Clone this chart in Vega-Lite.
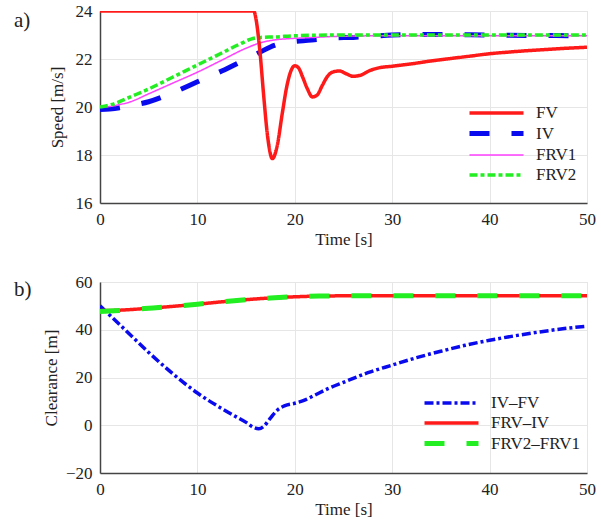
{
  "$schema": "https://vega.github.io/schema/vega-lite/v6.json",
  "padding": {"left": 13, "top": 1, "right": 4, "bottom": 2},
  "background": "white",
  "spacing": 24,
  "config": {
    "font": "Liberation Serif",
    "view": {"stroke": "#dcdcdc", "strokeWidth": 1},
    "axis": {
      "labelFont": "Liberation Serif", "labelFontSize": 17, "labelColor": "#222",
      "titleFont": "Liberation Serif", "titleFontSize": 17, "titleFontWeight": "normal", "titleColor": "#222",
      "domainColor": "#444", "domainWidth": 1.5, "gridColor": "#e6e6e6", "gridWidth": 1,
      "ticks": false, "labelPadding": 8, "labelFlush": false
    },
    "legend": {
      "labelFont": "Liberation Serif", "labelFontSize": 17, "labelColor": "#222",
      "symbolType": "M-2.7,0H2.7", "symbolSize": 400, "labelOffset": 27, "rowPadding": 0,
      "title": null, "orient": "none"
    },
    "title": {"font": "Liberation Serif", "fontSize": 21, "fontWeight": "normal", "color": "#222"}
  },
  "datasets": {
    "speed": [
      {"t": 0, "v": 19.9, "s": "IV"}, {"t": 1, "v": 19.92, "s": "IV"}, {"t": 2, "v": 19.97, "s": "IV"}, {"t": 3, "v": 20.05, "s": "IV"}, {"t": 5, "v": 20.22, "s": "IV"}, {"t": 7.5, "v": 20.6, "s": "IV"}, {"t": 10, "v": 21.05, "s": "IV"}, {"t": 12.5, "v": 21.5, "s": "IV"}, {"t": 15, "v": 22.0, "s": "IV"}, {"t": 16.5, "v": 22.3, "s": "IV"}, {"t": 17.5, "v": 22.5, "s": "IV"}, {"t": 19, "v": 22.68, "s": "IV"}, {"t": 20.5, "v": 22.75, "s": "IV"}, {"t": 22, "v": 22.8, "s": "IV"}, {"t": 24, "v": 22.88, "s": "IV"}, {"t": 26, "v": 22.9, "s": "IV"}, {"t": 28, "v": 22.95, "s": "IV"}, {"t": 30, "v": 23.0, "s": "IV"}, {"t": 35, "v": 23.02, "s": "IV"}, {"t": 40, "v": 23.0, "s": "IV"}, {"t": 45, "v": 22.98, "s": "IV"}, {"t": 50, "v": 22.97, "s": "IV"},
      {"t": 0, "v": 20.0, "s": "FRV1"}, {"t": 1, "v": 20.02, "s": "FRV1"}, {"t": 2, "v": 20.1, "s": "FRV1"}, {"t": 3, "v": 20.2, "s": "FRV1"}, {"t": 5, "v": 20.55, "s": "FRV1"}, {"t": 7.5, "v": 21.0, "s": "FRV1"}, {"t": 10, "v": 21.45, "s": "FRV1"}, {"t": 12.5, "v": 21.95, "s": "FRV1"}, {"t": 15, "v": 22.45, "s": "FRV1"}, {"t": 16.5, "v": 22.68, "s": "FRV1"}, {"t": 18, "v": 22.8, "s": "FRV1"}, {"t": 19.5, "v": 22.85, "s": "FRV1"}, {"t": 21, "v": 22.88, "s": "FRV1"}, {"t": 25, "v": 22.95, "s": "FRV1"}, {"t": 30, "v": 22.97, "s": "FRV1"}, {"t": 50, "v": 22.97, "s": "FRV1"},
      {"t": 0, "v": 20.0, "s": "FRV2"}, {"t": 1, "v": 20.08, "s": "FRV2"}, {"t": 2, "v": 20.22, "s": "FRV2"}, {"t": 3, "v": 20.4, "s": "FRV2"}, {"t": 5, "v": 20.75, "s": "FRV2"}, {"t": 7.5, "v": 21.25, "s": "FRV2"}, {"t": 10, "v": 21.75, "s": "FRV2"}, {"t": 12.5, "v": 22.25, "s": "FRV2"}, {"t": 14.5, "v": 22.65, "s": "FRV2"}, {"t": 15.5, "v": 22.83, "s": "FRV2"}, {"t": 16.5, "v": 22.9, "s": "FRV2"}, {"t": 18, "v": 22.92, "s": "FRV2"}, {"t": 20, "v": 22.97, "s": "FRV2"}, {"t": 25, "v": 23.0, "s": "FRV2"}, {"t": 50, "v": 23.0, "s": "FRV2"},
      {"t": 0, "v": 24, "s": "FV"}, {"t": 15.8, "v": 24, "s": "FV"}, {"t": 16.0, "v": 23.7, "s": "FV"}, {"t": 16.4, "v": 22.4, "s": "FV"}, {"t": 16.8, "v": 20.5, "s": "FV"}, {"t": 17.2, "v": 18.8, "s": "FV"}, {"t": 17.7, "v": 17.85, "s": "FV"}, {"t": 18.2, "v": 18.4, "s": "FV"}, {"t": 18.7, "v": 19.7, "s": "FV"}, {"t": 19.2, "v": 20.9, "s": "FV"}, {"t": 19.6, "v": 21.5, "s": "FV"}, {"t": 20.0, "v": 21.72, "s": "FV"}, {"t": 20.4, "v": 21.62, "s": "FV"}, {"t": 20.8, "v": 21.25, "s": "FV"}, {"t": 21.3, "v": 20.75, "s": "FV"}, {"t": 21.8, "v": 20.42, "s": "FV"}, {"t": 22.3, "v": 20.5, "s": "FV"}, {"t": 22.8, "v": 20.88, "s": "FV"}, {"t": 23.4, "v": 21.3, "s": "FV"}, {"t": 24.0, "v": 21.47, "s": "FV"}, {"t": 24.6, "v": 21.5, "s": "FV"}, {"t": 25.3, "v": 21.38, "s": "FV"}, {"t": 26.0, "v": 21.28, "s": "FV"}, {"t": 26.8, "v": 21.33, "s": "FV"}, {"t": 27.6, "v": 21.5, "s": "FV"}, {"t": 28.5, "v": 21.62, "s": "FV"}, {"t": 30, "v": 21.7, "s": "FV"}, {"t": 32, "v": 21.8, "s": "FV"}, {"t": 34, "v": 21.92, "s": "FV"}, {"t": 36, "v": 22.02, "s": "FV"}, {"t": 38, "v": 22.12, "s": "FV"}, {"t": 40, "v": 22.22, "s": "FV"}, {"t": 42, "v": 22.29, "s": "FV"}, {"t": 44, "v": 22.35, "s": "FV"}, {"t": 46, "v": 22.4, "s": "FV"}, {"t": 48, "v": 22.45, "s": "FV"}, {"t": 50, "v": 22.49, "s": "FV"}
    ],
    "clear": [
      {"t": 0, "c": 50, "p": "IV–FV"}, {"t": 2.5, "c": 40.3, "p": "IV–FV"}, {"t": 5, "c": 30.5, "p": "IV–FV"}, {"t": 7.5, "c": 21.5, "p": "IV–FV"}, {"t": 10, "c": 13.5, "p": "IV–FV"}, {"t": 12.5, "c": 7, "p": "IV–FV"}, {"t": 14, "c": 3.5, "p": "IV–FV"}, {"t": 15, "c": 1.2, "p": "IV–FV"}, {"t": 15.8, "c": -1, "p": "IV–FV"}, {"t": 16.3, "c": -1.5, "p": "IV–FV"}, {"t": 16.8, "c": -0.5, "p": "IV–FV"}, {"t": 17.5, "c": 3, "p": "IV–FV"}, {"t": 18.2, "c": 6.3, "p": "IV–FV"}, {"t": 19, "c": 8.2, "p": "IV–FV"}, {"t": 20, "c": 9.2, "p": "IV–FV"}, {"t": 21, "c": 10.5, "p": "IV–FV"}, {"t": 22, "c": 12.5, "p": "IV–FV"}, {"t": 23.5, "c": 15.5, "p": "IV–FV"}, {"t": 25, "c": 18, "p": "IV–FV"}, {"t": 27.5, "c": 22, "p": "IV–FV"}, {"t": 30, "c": 25.2, "p": "IV–FV"}, {"t": 32.5, "c": 28.3, "p": "IV–FV"}, {"t": 35, "c": 31, "p": "IV–FV"}, {"t": 37.5, "c": 33.5, "p": "IV–FV"}, {"t": 40, "c": 35.6, "p": "IV–FV"}, {"t": 42.5, "c": 37.4, "p": "IV–FV"}, {"t": 45, "c": 39, "p": "IV–FV"}, {"t": 47.5, "c": 40.4, "p": "IV–FV"}, {"t": 50, "c": 41.5, "p": "IV–FV"},
      {"t": 0, "c": 48, "p": "FRV–IV"}, {"t": 2, "c": 48.2, "p": "FRV–IV"}, {"t": 5, "c": 49, "p": "FRV–IV"}, {"t": 7.5, "c": 49.8, "p": "FRV–IV"}, {"t": 10, "c": 50.7, "p": "FRV–IV"}, {"t": 12.5, "c": 51.7, "p": "FRV–IV"}, {"t": 15, "c": 52.6, "p": "FRV–IV"}, {"t": 17.5, "c": 53.3, "p": "FRV–IV"}, {"t": 20, "c": 53.8, "p": "FRV–IV"}, {"t": 22.5, "c": 54.1, "p": "FRV–IV"}, {"t": 25, "c": 54.2, "p": "FRV–IV"}, {"t": 50, "c": 54.2, "p": "FRV–IV"},
      {"t": 0, "c": 47.6, "p": "FRV2–FRV1"}, {"t": 2, "c": 48.1, "p": "FRV2–FRV1"}, {"t": 5, "c": 49, "p": "FRV2–FRV1"}, {"t": 7.5, "c": 49.8, "p": "FRV2–FRV1"}, {"t": 10, "c": 50.7, "p": "FRV2–FRV1"}, {"t": 12.5, "c": 51.7, "p": "FRV2–FRV1"}, {"t": 15, "c": 52.6, "p": "FRV2–FRV1"}, {"t": 17.5, "c": 53.3, "p": "FRV2–FRV1"}, {"t": 20, "c": 53.8, "p": "FRV2–FRV1"}, {"t": 22.5, "c": 54.1, "p": "FRV2–FRV1"}, {"t": 25, "c": 54.2, "p": "FRV2–FRV1"}, {"t": 50, "c": 54.2, "p": "FRV2–FRV1"}
    ]
  },
  "resolve": {
    "scale": {"color": "independent", "strokeDash": "independent", "strokeWidth": "independent"},
    "legend": {"color": "independent", "strokeDash": "independent", "strokeWidth": "independent"}
  },
  "vconcat": [
    {
      "width": 487, "height": 192,
      "title": {"text": "a)", "anchor": "start", "frame": "group", "dx": -86, "dy": 29, "offset": 0},
      "data": {"name": "speed"},
      "mark": {"type": "line", "interpolate": "monotone", "clip": true},
      "encoding": {
        "x": {"field": "t", "type": "quantitative", "scale": {"domain": [0, 50], "nice": false}, "axis": {"title": "Time [s]", "tickCount": 5, "titlePadding": 4}},
        "y": {"field": "v", "type": "quantitative", "scale": {"domain": [16, 24], "nice": false, "zero": false}, "axis": {"title": "Speed [m/s]", "values": [16, 18, 20, 22, 24], "titlePadding": 9}},
        "color": {"field": "s", "type": "nominal", "scale": {"domain": ["FV", "IV", "FRV1", "FRV2"], "range": ["#ff1a1a", "#0a0aee", "#ff40ff", "#22ee22"]}, "legend": {"legendX": 384, "legendY": 90}},
        "strokeDash": {"field": "s", "type": "nominal", "scale": {"domain": ["FV", "IV", "FRV1", "FRV2"], "range": [[1, 0], [20, 22], [1, 0], [8, 3, 4, 3]]}, "legend": {"legendX": 384, "legendY": 90}},
        "strokeWidth": {"field": "s", "type": "nominal", "scale": {"type": "ordinal", "domain": ["FV", "IV", "FRV1", "FRV2"], "range": [3.5, 5, 1.5, 3.5]}, "legend": {"legendX": 384, "legendY": 90}}
      }
    },
    {
      "width": 487, "height": 191,
      "title": {"text": "b)", "anchor": "start", "frame": "group", "dx": -86, "dy": 27, "offset": 0},
      "data": {"name": "clear"},
      "mark": {"type": "line", "interpolate": "monotone", "clip": true},
      "encoding": {
        "x": {"field": "t", "type": "quantitative", "scale": {"domain": [0, 50], "nice": false}, "axis": {"title": "Time [s]", "tickCount": 5, "titlePadding": 4}},
        "y": {"field": "c", "type": "quantitative", "scale": {"domain": [-20, 60], "nice": false, "zero": false}, "axis": {"title": "Clearance [m]", "values": [-20, 0, 20, 40, 60], "titlePadding": 5}},
        "color": {"field": "p", "type": "nominal", "scale": {"domain": ["IV–FV", "FRV–IV", "FRV2–FRV1"], "range": ["#0a0aee", "#ff1a1a", "#22ee22"]}, "legend": {"legendX": 339, "legendY": 109}},
        "strokeDash": {"field": "p", "type": "nominal", "scale": {"domain": ["IV–FV", "FRV–IV", "FRV2–FRV1"], "range": [[9, 3, 3, 3], [1, 0], [20, 22]]}, "legend": {"legendX": 339, "legendY": 109}},
        "strokeWidth": {"field": "p", "type": "nominal", "scale": {"type": "ordinal", "domain": ["IV–FV", "FRV–IV", "FRV2–FRV1"], "range": [3.5, 3.5, 5]}, "legend": {"legendX": 339, "legendY": 109}}
      }
    }
  ]
}
